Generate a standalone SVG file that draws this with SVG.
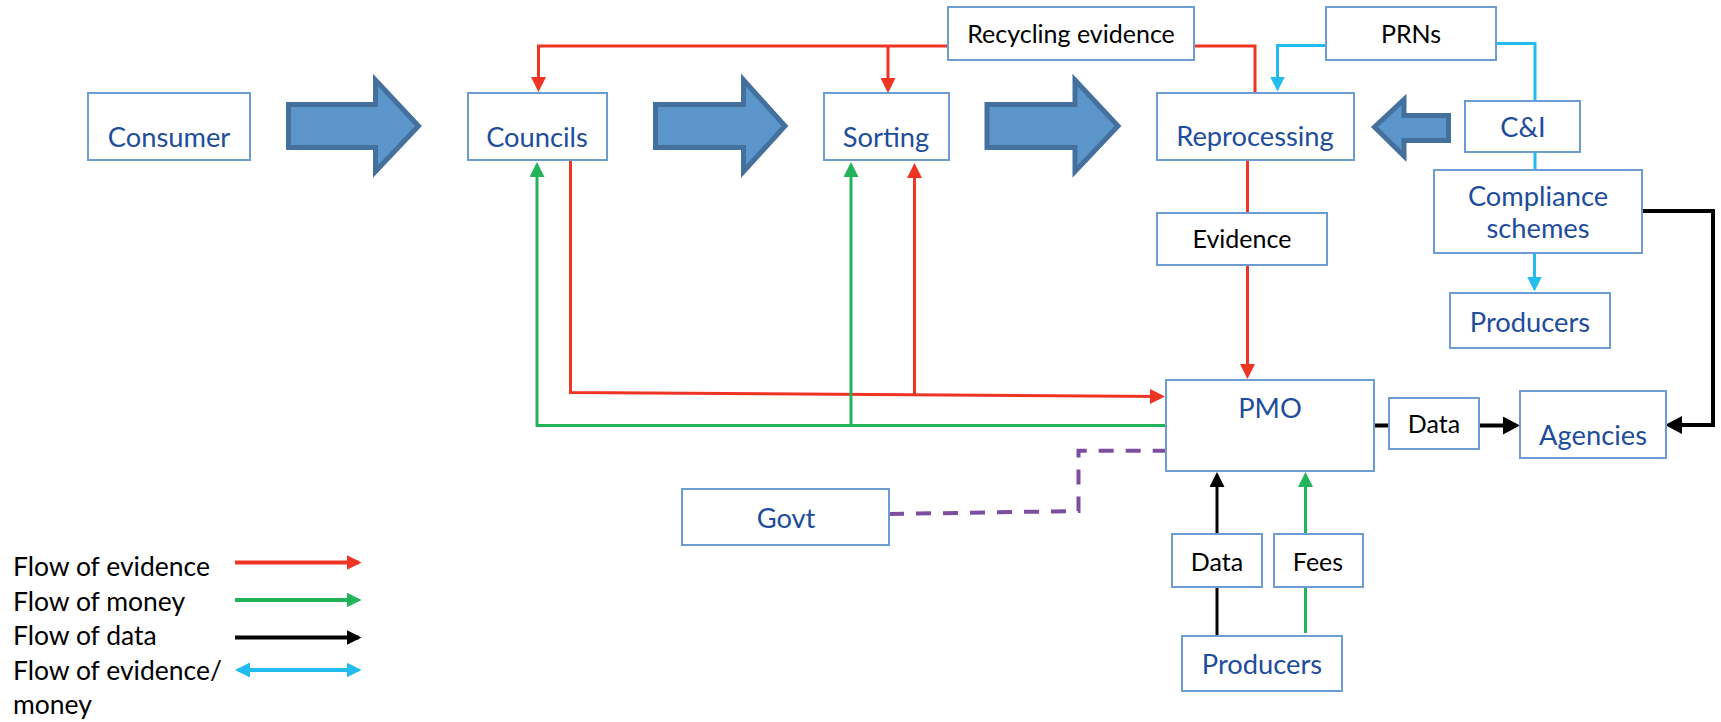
<svg xmlns="http://www.w3.org/2000/svg" width="1721" height="722" viewBox="0 0 1721 722">
<style>
.box{fill:#fff;stroke:#6C9CD2;stroke-width:2}
.n{font-family:Lato,"Liberation Sans",sans-serif;font-size:27.3px;fill:#1E4D9B;text-anchor:middle}
.l{font-family:Lato,"Liberation Sans",sans-serif;font-size:25px;fill:#000;text-anchor:middle}
.lg{font-family:Lato,"Liberation Sans",sans-serif;font-size:26.5px;fill:#000}
.big{fill:#5B95C9;stroke:#44709D;stroke-width:5;stroke-linejoin:miter}
.r{fill:none;stroke:#EE3424;stroke-width:3}
.g{fill:none;stroke:#22B35B;stroke-width:3}
.k{fill:none;stroke:#000;stroke-width:3}
.k4{fill:none;stroke:#000;stroke-width:4}
.b{fill:none;stroke:#22BDEE;stroke-width:3}
.p{fill:none;stroke:#7D4D9F;stroke-width:4;stroke-dasharray:15 12}
</style>
<defs>
<marker id="ar" markerUnits="userSpaceOnUse" markerWidth="15" markerHeight="15" refX="12" refY="7.5" orient="auto"><path d="M0,0 L15,7.5 L0,15 z" fill="#EE3424"/></marker>
<marker id="ag" markerUnits="userSpaceOnUse" markerWidth="15" markerHeight="15" refX="12" refY="7.5" orient="auto"><path d="M0,0 L15,7.5 L0,15 z" fill="#22B35B"/></marker>
<marker id="ak" markerUnits="userSpaceOnUse" markerWidth="15" markerHeight="15" refX="12" refY="7.5" orient="auto"><path d="M0,0 L15,7.5 L0,15 z" fill="#000"/></marker>
<marker id="akb" markerUnits="userSpaceOnUse" markerWidth="17" markerHeight="18" refX="13" refY="9" orient="auto"><path d="M0,0 L17,9 L0,18 z" fill="#000"/></marker>
<marker id="ab" markerUnits="userSpaceOnUse" markerWidth="15" markerHeight="15" refX="12" refY="7.5" orient="auto-start-reverse"><path d="M0,0 L15,7.5 L0,15 z" fill="#22BDEE"/></marker>
</defs>

<g id="flow-arrows">
<polygon class="big" points="288.5,104.5 375.5,104.5 375.5,80 418.5,126 375.5,171.5 375.5,147.5 288.5,147.5"/>
<polygon class="big" points="655.5,104.5 743.5,104.5 743.5,80 785,126 743.5,171.5 743.5,147.5 655.5,147.5"/>
<polygon class="big" points="987,104.5 1075,104.5 1075,80 1118,126 1075,171.5 1075,147.5 987,147.5"/>
<polygon class="big" points="1448.5,115.5 1404,115.5 1404,99.5 1374.5,127 1404,156 1404,140.5 1448.5,140.5"/>
</g>

<g id="connectors">
<path class="r" d="M1255,93 V46 H1194"/>
<path class="r" d="M948,46 H538.5 V89" marker-end="url(#ar)"/>
<path class="r" d="M888,46 V90" marker-end="url(#ar)"/>
<path class="r" d="M570.5,161 V392.5 L1162,396.5" marker-end="url(#ar)"/>
<path class="r" d="M914.5,394.5 V166" marker-end="url(#ar)"/>
<path class="r" d="M1247.5,160 V213"/>
<path class="r" d="M1247.5,265 V376" marker-end="url(#ar)"/>
<path class="g" d="M1166,425.5 H537 V165" marker-end="url(#ag)"/>
<path class="g" d="M851,425.5 V165" marker-end="url(#ag)"/>
<path class="g" d="M1305.5,633 V587"/>
<path class="g" d="M1305.5,534 V475" marker-end="url(#ag)"/>
<path class="k" d="M1217,636 V587"/>
<path class="k" d="M1217,534 V475" marker-end="url(#ak)"/>
<path class="k4" d="M1374,425.5 H1389"/>
<path class="k4" d="M1479,425.5 H1516" marker-end="url(#akb)"/>
<path class="k4" d="M1642,211 H1713 V425 H1669" marker-end="url(#akb)"/>
<path class="b" d="M1326,45.5 H1277.5 V88.5" marker-end="url(#ab)"/>
<path class="b" d="M1497,43.5 H1535 V101"/>
<path class="b" d="M1535,152 V170"/>
<path class="b" d="M1534.5,253 V288.5" marker-end="url(#ab)"/>
<path class="p" d="M889,514 L1078.5,511 V450.7 H1165"/>
</g>

<g id="consumer"><rect class="box" x="88" y="93" width="162" height="67"/><text class="n" x="169" y="147">Consumer</text></g>
<g id="councils"><rect class="box" x="468" y="93" width="139" height="67"/><text class="n" x="537" y="147">Councils</text></g>
<g id="sorting"><rect class="box" x="824" y="93" width="125" height="67"/><text class="n" x="886" y="147">Sorting</text></g>
<g id="reprocessing"><rect class="box" x="1157" y="93" width="197" height="67"/><text class="n" x="1255" y="146">Reprocessing</text></g>
<g id="recycling-evidence"><rect class="box" x="948" y="7" width="246" height="53"/><text class="l" x="1071" y="43">Recycling evidence</text></g>
<g id="prns"><rect class="box" x="1326" y="7" width="170" height="53"/><text class="l" x="1411" y="43">PRNs</text></g>
<g id="ci"><rect class="box" x="1465" y="101" width="115" height="51"/><text class="n" x="1523" y="137">C&amp;I</text></g>
<g id="compliance"><rect class="box" x="1434" y="170" width="208" height="83"/><text class="n" x="1538" y="205.5">Compliance</text><text class="n" x="1538" y="237.5">schemes</text></g>
<g id="producers-cs"><rect class="box" x="1450" y="293" width="160" height="55"/><text class="n" x="1530" y="331.5">Producers</text></g>
<g id="evidence"><rect class="box" x="1157" y="213" width="170" height="52"/><text class="l" x="1242" y="248">Evidence</text></g>
<g id="pmo"><rect class="box" x="1166" y="380" width="208" height="91"/><text class="n" x="1270" y="418">PMO</text></g>
<g id="data-agencies"><rect class="box" x="1389" y="398" width="90" height="51"/><text class="l" x="1434" y="433">Data</text></g>
<g id="agencies"><rect class="box" x="1520" y="391" width="146" height="67"/><text class="n" x="1593" y="445">Agencies</text></g>
<g id="govt"><rect class="box" x="682" y="489" width="207" height="56"/><text class="n" x="786" y="528">Govt</text></g>
<g id="data-pmo"><rect class="box" x="1172" y="534" width="90" height="53"/><text class="l" x="1217" y="570.5">Data</text></g>
<g id="fees"><rect class="box" x="1274" y="534" width="89" height="53"/><text class="l" x="1318" y="570.5">Fees</text></g>
<g id="producers"><rect class="box" x="1182" y="636" width="160" height="55"/><text class="n" x="1262" y="674">Producers</text></g>

<g id="legend">
<text class="lg" x="13" y="576">Flow of evidence</text>
<text class="lg" x="13" y="610.5">Flow of money</text>
<text class="lg" x="13" y="645">Flow of data</text>
<text class="lg" x="13" y="679.5">Flow of evidence/</text>
<text class="lg" x="13" y="713.5">money</text>
<path d="M235,562.5 H358.5" stroke="#EE3424" stroke-width="4" marker-end="url(#ar)"/>
<path d="M235,600 H358.5" stroke="#22B35B" stroke-width="4" marker-end="url(#ag)"/>
<path d="M235,637.5 H358.5" stroke="#000" stroke-width="4" marker-end="url(#ak)"/>
<path d="M238,670 H358.5" stroke="#22BDEE" stroke-width="4" marker-start="url(#ab)" marker-end="url(#ab)"/>
</g>
</svg>
